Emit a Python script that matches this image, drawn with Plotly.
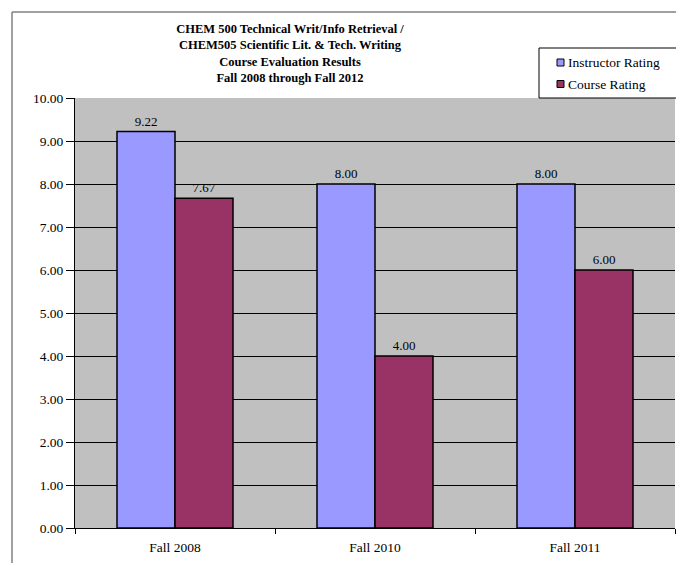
import plotly.graph_objects as go

categories = ["Fall 2008", "Fall 2010", "Fall 2011"]
instructor = [9.22, 8.00, 8.00]
course = [7.67, 4.00, 6.00]
y_ticks = [0, 1, 2, 3, 4, 5, 6, 7, 8, 9, 10]
series_names = ["Instructor Rating", "Course Rating"]
series_colors = ["#9999FF", "#993366"]

FONT = "Liberation Serif"
W, H = 676, 563
ML, MR, MT, MB = 75, 1, 98, 35
PW, PH = W - ML - MR, H - MT - MB

fig = go.Figure()
for name, vals, col in zip(series_names, [instructor, course], series_colors):
    fig.add_trace(go.Bar(x=categories, y=vals, name=name,
                         marker=dict(color=col, line=dict(color="black", width=1.5)),
                         texttemplate="%{y:.2f}", textposition="outside",
                         textfont=dict(color="black", size=13, family=FONT),
                         cliponaxis=False, showlegend=False))


def px_x(p):
    return (p - ML) / PW


def px_y(p):
    return 1 - (p - MT) / PH


shapes = [
    dict(type="line", xref="paper", yref="paper",
         x0=px_x(12), x1=px_x(12), y0=px_y(12), y1=px_y(600),
         line=dict(color="#808080", width=1.5)),
    dict(type="line", xref="paper", yref="paper",
         x0=px_x(12), x1=px_x(700), y0=px_y(12), y1=px_y(12),
         line=dict(color="#808080", width=1.5)),
    # legend box
    dict(type="rect", xref="paper", yref="paper",
         x0=px_x(539), x1=px_x(700), y0=px_y(98), y1=px_y(48),
         fillcolor="white", line=dict(color="black", width=1)),
]
annotations = []
row_centers = [62.5, 84]
for name, col, cy in zip(series_names, series_colors, row_centers):
    shapes.append(dict(type="rect", xref="paper", yref="paper",
                       x0=px_x(557), x1=px_x(564), y0=px_y(cy + 3.5), y1=px_y(cy - 3.5),
                       fillcolor=col, line=dict(color="black", width=1)))
    annotations.append(dict(text=name, xref="paper", yref="paper",
                            x=px_x(566), y=px_y(cy), xanchor="left", yanchor="middle",
                            showarrow=False, font=dict(family=FONT, size=13.5, color="black")))

fig.update_layout(
    width=W, height=H,
    margin=dict(l=ML, r=MR, t=MT, b=MB),
    paper_bgcolor="white", plot_bgcolor="#C0C0C0",
    font=dict(family=FONT, size=13, color="black"),
    barmode="group", bargap=0.42, bargroupgap=0,
    title=dict(text="<b>CHEM 500 Technical Writ/Info Retrieval /<br>CHEM505 Scientific Lit. &amp; Tech. Writing<br>Course Evaluation Results<br>Fall 2008 through Fall 2012</b>",
               x=px_x(290), xref="paper", xanchor="center",
               y=1 - 33 / H, yref="container", yanchor="top",
               font=dict(family=FONT, size=12.5, color="black")),
    showlegend=False,
    xaxis=dict(showline=True, linecolor="black", linewidth=1,
               ticks="outside", tickson="boundaries", ticklen=5, tickcolor="black",
               ticklabelstandoff=7,
               tickfont=dict(family=FONT, size=13.5), showgrid=False),
    yaxis=dict(range=[0, 10], tickvals=y_ticks, tickformat=".2f",
               showline=True, linecolor="black", linewidth=1,
               ticks="outside", ticklen=8, tickcolor="black",
               showgrid=True, gridcolor="black", gridwidth=1,
               zeroline=False, tickfont=dict(family=FONT, size=13.5)),
    shapes=shapes,
    annotations=annotations,
)

fig.write_html("out.html")
